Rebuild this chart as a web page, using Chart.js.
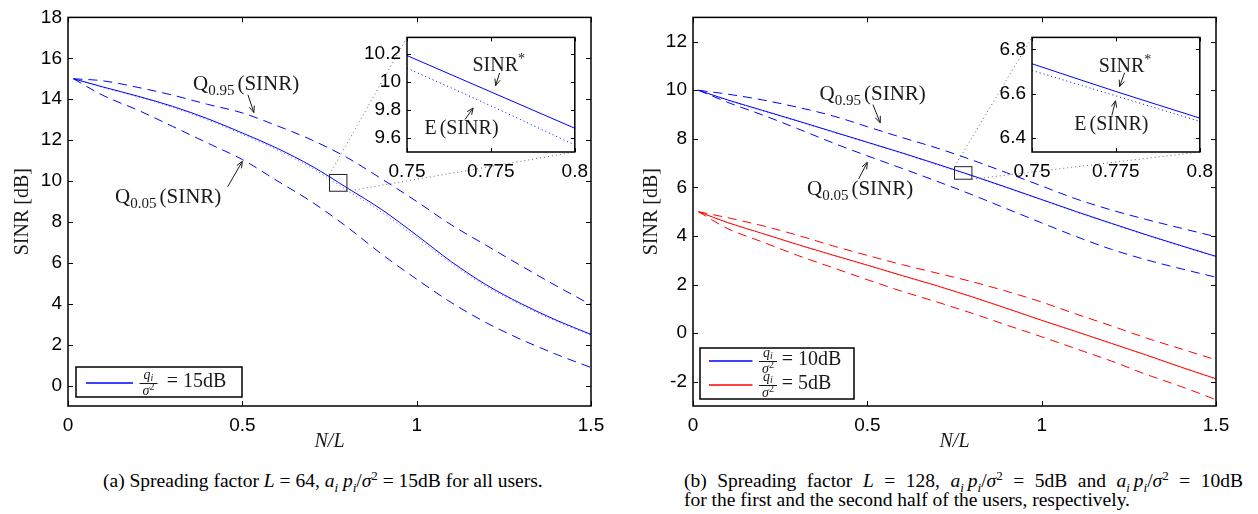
<!DOCTYPE html>
<html>
<head>
<meta charset="utf-8">
<title>SINR versus N/L</title>
<style>
  body { margin: 0; background: #fff; width: 1258px; height: 514px; position: relative; overflow: hidden; }
  canvas { position: absolute; }
  .cap { position: absolute; font-family: "Liberation Serif", "Times New Roman", serif; font-size: 19.5px; color: #000; line-height: 19px; white-space: nowrap; }
  .cap sub, .cap sup { font-size: 13px; line-height: 0; }
  .just { width: 559px; text-align: justify; text-align-last: justify; }
</style>
</head>
<body>
<canvas id="mainA" width="625" height="456" style="left:0;top:0"></canvas>
<canvas id="mainB" width="633" height="456" style="left:625px;top:0"></canvas>
<canvas id="zoomA" width="239" height="172" style="left:357px;top:20px"></canvas>
<canvas id="zoomB" width="239" height="172" style="left:982px;top:20px"></canvas>
<div class="cap" style="left:103px;top:471px">(a) Spreading factor <i>L</i> = 64, <i>a<sub>i</sub></i> <i>p<sub>i</sub></i>/<i>σ</i><sup>2</sup> = 15dB for all users.</div>
<div class="cap" style="left:684px;top:471px"><div class="just">(b) Spreading factor <i>L</i> = 128, <i>a<sub>i</sub></i>&#8239;<i>p<sub>i</sub></i>/<i>σ</i><sup>2</sup> = 5dB and <i>a<sub>i</sub></i>&#8239;<i>p<sub>i</sub></i>/<i>σ</i><sup>2</sup> = 10dB</div><div>for the first and the second half of the users, respectively.</div></div>

<script src="https://cdn.jsdelivr.net/npm/chart.js"></script>
<script>
  // N/L values (first point is one user, N = 1)
  const nl = [0.0156, 0.1, 0.2, 0.3, 0.4, 0.5, 0.6, 0.7, 0.8, 0.9, 1.0, 1.1, 1.2, 1.3, 1.4, 1.5];

  // (a) L = 64, 15dB
  const a15Star = [15, 14.6, 14.15, 13.65, 13.05, 12.35, 11.6, 10.72, 9.67, 8.6, 7.35, 6.05, 4.92, 4.0, 3.2, 2.5];
  const a15Mean = [15, 14.58, 14.12, 13.6, 12.99, 12.28, 11.52, 10.62, 9.55, 8.47, 7.23, 5.95, 4.84, 3.94, 3.15, 2.46];
  const a15Q95  = [15, 14.9, 14.58, 14.2, 13.75, 13.33, 12.7, 12.0, 11.15, 10.1, 9.0, 7.85, 6.85, 5.85, 4.88, 3.95];
  const a15Q05  = [15, 14.19, 13.47, 12.67, 11.86, 11.05, 10.01, 8.97, 7.76, 6.42, 5.2, 4.05, 3.07, 2.25, 1.53, 0.88];

  // (b) L = 128, 10dB and 5dB
  const b10Star = [10, 9.6, 9.17, 8.74, 8.3, 7.86, 7.42, 6.96, 6.49, 6.0, 5.5, 5.0, 4.52, 4.05, 3.6, 3.16];
  const b10Mean = [10, 9.58, 9.15, 8.72, 8.28, 7.84, 7.4, 6.93, 6.47, 5.98, 5.48, 4.98, 4.5, 4.03, 3.58, 3.14];
  const b10Q95  = [10, 9.84, 9.6, 9.3, 8.95, 8.5, 8.05, 7.62, 7.13, 6.6, 6.06, 5.52, 5.07, 4.68, 4.32, 3.97];
  const b10Q05  = [10, 9.5, 8.98, 8.42, 7.84, 7.3, 6.78, 6.25, 5.7, 5.12, 4.54, 3.97, 3.45, 3.02, 2.65, 2.3];
  const b5Star  = [5, 4.55, 4.1, 3.65, 3.22, 2.8, 2.37, 1.95, 1.5, 1.02, 0.53, 0.06, -0.42, -0.9, -1.4, -1.88];
  const b5Mean  = [5, 4.54, 4.09, 3.63, 3.2, 2.78, 2.35, 1.93, 1.48, 1.0, 0.51, 0.04, -0.44, -0.92, -1.42, -1.9];
  const b5Q95   = [5, 4.75, 4.42, 4.03, 3.6, 3.2, 2.82, 2.47, 2.12, 1.72, 1.28, 0.78, 0.3, -0.2, -0.65, -1.1];
  const b5Q05   = [5, 4.3, 3.75, 3.2, 2.7, 2.2, 1.72, 1.28, 0.82, 0.33, -0.15, -0.65, -1.15, -1.7, -2.2, -2.74];

  // zoomed windows
  const zoomX = [0.75, 0.775, 0.8];
  const zoomAStar = [10.19, 9.93, 9.67];
  const zoomAMean = [10.10, 9.83, 9.55];
  const zoomBStar = [6.735, 6.61, 6.49];
  const zoomBMean = [6.705, 6.59, 6.475];

  // ticks
  const ticksX = [0, 0.5, 1, 1.5];
  const ticksYA = [0, 2, 4, 6, 8, 10, 12, 14, 16, 18];
  const ticksYB = [-2, 0, 2, 4, 6, 8, 10, 12];
  const zoomTicksX = [0.75, 0.775, 0.8];
  const zoomTicksYA = [9.6, 9.8, 10, 10.2];
  const zoomTicksYB = [6.4, 6.6, 6.8];

  const BLUE = '#0000ff', RED = '#ff0000', DOTBLUE = '#5a5aff', DOTRED = '#ff6a6a';
  const SERIF = '"Liberation Serif", "Times New Roman", serif';
  Chart.defaults.font.family = '"Liberation Sans", Arial, sans-serif';
  Chart.defaults.color = '#000';

  function xy(ys, xs) { return (xs || nl).map((v, i) => ({x: v, y: ys[i]})); }
  function series(ys, color, kind, xs) {
    const d = {data: xy(ys, xs), borderColor: color, borderWidth: 1, pointRadius: 0, cubicInterpolationMode: 'monotone', fill: false};
    if (kind === 'dash') d.borderDash = [9, 6];
    if (kind === 'dot') { d.borderDash = [1, 3]; }
    return d;
  }

  function line(ctx, x0, y0, x1, y1) { ctx.beginPath(); ctx.moveTo(x0, y0); ctx.lineTo(x1, y1); ctx.stroke(); }

  function arrow(ctx, x0, y0, x1, y1) {
    line(ctx, x0, y0, x1, y1);
    const a = Math.atan2(y1 - y0, x1 - x0), L = 7, w = 0.4;
    ctx.beginPath();
    ctx.moveTo(x1 - L * Math.cos(a - w), y1 - L * Math.sin(a - w));
    ctx.lineTo(x1, y1);
    ctx.lineTo(x1 - L * Math.cos(a + w), y1 - L * Math.sin(a + w));
    ctx.stroke();
  }

  // runs: [text, size, dy, extra gap]
  function drawRuns(ctx, x, y, runs) {
    ctx.textAlign = 'left'; ctx.textBaseline = 'alphabetic';
    runs.forEach(r => {
      ctx.font = r[1] + 'px ' + SERIF;
      ctx.fillText(r[0], x, y + r[2]);
      x += ctx.measureText(r[0]).width + (r[3] || 0);
    });
  }

  function drawFrac(ctx, cx, y) {
    ctx.textAlign = 'left'; ctx.textBaseline = 'alphabetic';
    ctx.font = 'italic 14px ' + SERIF; const qw = ctx.measureText('q').width;
    ctx.font = 'italic 10px ' + SERIF; const iw = ctx.measureText('i').width;
    let x = cx - (qw + iw) / 2;
    ctx.font = 'italic 14px ' + SERIF; ctx.fillText('q', x, y - 4);
    ctx.font = 'italic 10px ' + SERIF; ctx.fillText('i', x + qw, y - 2);
    ctx.fillRect(cx - 9, y, 18, 1);
    ctx.font = 'italic 14px ' + SERIF; const sw = ctx.measureText('σ').width;
    ctx.font = '10px ' + SERIF; const tw = ctx.measureText('2').width;
    x = cx - (sw + tw) / 2;
    ctx.font = 'italic 14px ' + SERIF; ctx.fillText('σ', x, y + 12);
    ctx.font = '10px ' + SERIF; ctx.fillText('2', x + sw, y + 7);
  }

  const decor = {
    id: 'decor',
    afterDatasetsDraw(chart, args, o) {
      const {ctx, chartArea: ca, scales: {x, y}} = chart;
      ctx.save();
      ctx.strokeStyle = '#000'; ctx.fillStyle = '#000'; ctx.lineWidth = 1;
      const tl = o.tickLen;
      x.ticks.forEach(t => {
        const px = Math.round(x.getPixelForValue(t.value)) + 0.5;
        line(ctx, px, ca.bottom, px, ca.bottom - tl);
        line(ctx, px, ca.top, px, ca.top + tl);
      });
      y.ticks.forEach(t => {
        const py = Math.round(y.getPixelForValue(t.value)) + 0.5;
        line(ctx, ca.left, py, ca.left + tl, py);
        line(ctx, ca.right, py, ca.right - tl, py);
      });
      ctx.lineWidth = o.frame;
      ctx.strokeRect(ca.left, ca.top, ca.right - ca.left, ca.bottom - ca.top);

      if (o.zoom) {
        const z = o.zoom, inset = Chart.getChart(z.id);
        const bx0 = x.getPixelForValue(z.x0), bx1 = x.getPixelForValue(z.x1);
        const by0 = y.getPixelForValue(z.y0), by1 = y.getPixelForValue(z.y1);
        ctx.lineWidth = 1; ctx.strokeStyle = '#222';
        ctx.strokeRect(bx0, by1, bx1 - bx0, by0 - by1);
        const dx = inset.canvas.offsetLeft - chart.canvas.offsetLeft;
        const dy = inset.canvas.offsetTop - chart.canvas.offsetTop;
        const ia = inset.chartArea;
        ctx.strokeStyle = '#666'; ctx.setLineDash([1, 3]);
        line(ctx, bx0, by1, ia.left + dx, ia.top + dy);
        line(ctx, bx1, by0, ia.right + dx, ia.bottom + dy);
        ctx.setLineDash([]);
      }

      ctx.fillStyle = '#1a1a1a'; ctx.strokeStyle = '#1a1a1a'; ctx.lineWidth = 1;
      (o.notes || []).forEach(n => drawRuns(ctx, x.getPixelForValue(n.x), y.getPixelForValue(n.y), n.runs));
      (o.arrows || []).forEach(a => arrow(ctx, x.getPixelForValue(a[0]), y.getPixelForValue(a[1]),
                                              x.getPixelForValue(a[2]), y.getPixelForValue(a[3])));

      if (o.legend) {
        const g = o.legend, bx = ca.left + g.dx, by = ca.bottom + g.dy;
        ctx.fillStyle = '#fff'; ctx.fillRect(bx, by, g.w, g.h);
        ctx.strokeStyle = '#000'; ctx.lineWidth = 1.5; ctx.strokeRect(bx, by, g.w, g.h);
        g.rows.forEach((r, i) => {
          const ry = Math.round(by + g.row0 + i * 24);
          ctx.strokeStyle = r.color; ctx.lineWidth = 1.5;
          line(ctx, bx + g.line[0], ry, bx + g.line[1], ry);
          ctx.fillStyle = '#1a1a1a';
          drawFrac(ctx, bx + g.frac, ry);
          drawRuns(ctx, bx + g.eq, ry + 4, [[r.text, 20, 0]]);
        });
      }
      ctx.restore();
    }
  };

  const tickFont = {family: '"Liberation Sans", Arial, sans-serif', size: 19};
  const fmt = v => String(v);

  function axes(xTicks, yTicks, xMin, xMax, yMin, yMax, yWidth, xHeight, titles) {
    const x = {
      type: 'linear', min: xMin, max: xMax,
      afterBuildTicks: s => { s.ticks = xTicks.map(v => ({value: v})); },
      afterFit: s => { s.height = xHeight; },
      grid: {display: false, drawTicks: false}, border: {display: false},
      ticks: {font: tickFont, color: '#000', padding: 8, maxRotation: 0, autoSkip: false, callback: fmt}
    };
    const y = {
      type: 'linear', min: yMin, max: yMax,
      afterBuildTicks: s => { s.ticks = yTicks.map(v => ({value: v})); },
      afterFit: s => { s.width = yWidth; },
      grid: {display: false, drawTicks: false}, border: {display: false},
      ticks: {font: tickFont, color: '#000', padding: 6, autoSkip: false, callback: fmt}
    };
    if (titles) {
      x.title = {display: true, text: 'N/L', color: '#1a1a1a', font: {family: SERIF, size: 20, style: 'italic'}, padding: {top: 0, bottom: 2}};
      y.title = {display: true, text: 'SINR [dB]', color: '#1a1a1a', font: {family: SERIF, size: 20}, padding: {top: titles.yPad, bottom: 0}};
    }
    return {x, y};
  }

  function base(pad, decorOpts, scales) {
    return {
      responsive: false, animation: false, events: [],
      layout: {padding: pad},
      plugins: {legend: {display: false}, tooltip: {enabled: false}, decor: decorOpts},
      scales
    };
  }

  const zoomA = {x0: 0.75, x1: 0.8, y0: 9.5, y1: 10.32};
  const zoomB = {x0: 0.75, x1: 0.8, y0: 6.337, y1: 6.854};

  const qRuns = sub => [['Q', 21, 0], [sub, 15, 5, 3], ['(SINR)', 21, 0]];

  // insets first, so the main charts can link to them
  new Chart(document.getElementById('zoomA'), {
    type: 'line',
    data: {datasets: [series(zoomAStar, BLUE, 'solid', zoomX), series(zoomAMean, BLUE, 'dot', zoomX)]},
    options: base({left: 0, top: 5, right: 20, bottom: 0},
      {tickLen: 4, frame: 1.5,
       notes: [{x: 0.7695, y: 10.077, runs: [['SINR', 20, 0], ['*', 14, -8]]},
               {x: 0.7552, y: 9.626, runs: [['E', 20, 0, 3], ['(SINR)', 20, 0]]}],
       arrows: [[0.7776, 10.066, 0.7764, 9.975], [0.7673, 9.733, 0.7697, 9.815]]},
      axes(zoomTicksX, zoomTicksYA, zoomA.x0, zoomA.x1, zoomA.y0, zoomA.y1, 50, 40)),
    plugins: [decor]
  });

  new Chart(document.getElementById('zoomB'), {
    type: 'line',
    data: {datasets: [series(zoomBStar, BLUE, 'solid', zoomX), series(zoomBMean, BLUE, 'dot', zoomX)]},
    options: base({left: 0, top: 5, right: 20, bottom: 0},
      {tickLen: 4, frame: 1.5,
       notes: [{x: 0.7699, y: 6.70, runs: [['SINR', 20, 0], ['*', 14, -8]]},
               {x: 0.7626, y: 6.434, runs: [['E', 20, 0, 3], ['(SINR)', 20, 0]]}],
       arrows: [[0.7776, 6.695, 0.7761, 6.632], [0.7738, 6.502, 0.7749, 6.568]]},
      axes(zoomTicksX, zoomTicksYB, zoomB.x0, zoomB.x1, zoomB.y0, zoomB.y1, 50, 40)),
    plugins: [decor]
  });

  new Chart(document.getElementById('mainA'), {
    type: 'line',
    data: {datasets: [
      series(a15Star, BLUE, 'solid'), series(a15Mean, DOTBLUE, 'dot'),
      series(a15Q95, BLUE, 'dash'), series(a15Q05, BLUE, 'dash')
    ]},
    options: base({left: 0, top: 14, right: 34, bottom: 0},
      {tickLen: 5, frame: 1.5, zoom: Object.assign({id: 'zoomA'}, zoomA),
       notes: [{x: 0.3585, y: 14.47, runs: qRuns('0.95')},
               {x: 0.135, y: 8.91, runs: qRuns('0.05')}],
       arrows: [[0.516, 14.22, 0.533, 13.35], [0.458, 9.72, 0.5, 10.96]],
       legend: {dx: 8, dy: -39, w: 166, h: 30, row0: 15.7, line: [10, 57], frac: 72.5, eq: 90.7,
                rows: [{color: BLUE, text: '= 15dB'}]}},
      axes(ticksX, ticksYA, 0, 1.5, -1, 18, 68, 50, {yPad: 11})),
    plugins: [decor]
  });

  new Chart(document.getElementById('mainB'), {
    type: 'line',
    data: {datasets: [
      series(b10Star, BLUE, 'solid'), series(b10Mean, DOTBLUE, 'dot'),
      series(b10Q95, BLUE, 'dash'), series(b10Q05, BLUE, 'dash'),
      series(b5Star, RED, 'solid'), series(b5Mean, DOTRED, 'dot'),
      series(b5Q95, RED, 'dash'), series(b5Q05, RED, 'dash')
    ]},
    options: base({left: 0, top: 14, right: 42, bottom: 0},
      {tickLen: 5, frame: 1.5, zoom: Object.assign({id: 'zoomB'}, zoomB),
       notes: [{x: 0.363, y: 9.61, runs: qRuns('0.95')},
               {x: 0.327, y: 5.70, runs: qRuns('0.05')}],
       arrows: [[0.516, 9.41, 0.537, 8.66], [0.475, 6.35, 0.5, 7.03]],
       legend: {dx: 7, dy: -58, w: 154, h: 51, row0: 13, line: [9, 52.5], frac: 68, eq: 81.7,
                rows: [{color: BLUE, text: '= 10dB'}, {color: RED, text: '= 5dB'}]}},
      axes(ticksX, ticksYB, 0, 1.5, -3, 13, 68, 50, {yPad: 14.7})),
    plugins: [decor]
  });
</script>
</body>
</html>
